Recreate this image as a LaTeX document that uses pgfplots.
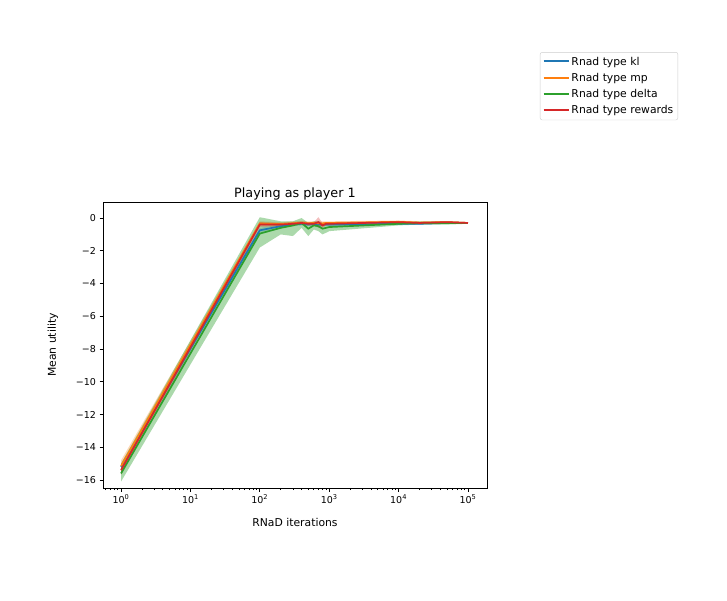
\documentclass[border=0pt]{standalone}
\usepackage{fontspec}
\setmainfont{DejaVu Sans}
\usepackage{pgfplots}
\pgfplotsset{compat=1.18}
\definecolor{tabblue}{HTML}{1F77B4}
\definecolor{taborange}{HTML}{FF7F0E}
\definecolor{tabgreen}{HTML}{2CA02C}
\definecolor{tabred}{HTML}{D62728}
\begin{document}
\begin{tikzpicture}[x=1pt,y=1pt]
\useasboundingbox (0,0) rectangle (727,600);
\begin{axis}[
  at={(103pt,112pt)}, anchor=south west,
  scale only axis, width=384pt, height=286pt,
  xmode=log, log basis x=10,
  xmin=0.55, xmax=1.88e5,
  ymin=-16.49, ymax=0.98,
  xtick={1,10,100,1000,10000,100000},
  xticklabels={10\textsuperscript{0},10\textsuperscript{1},10\textsuperscript{2},10\textsuperscript{3},10\textsuperscript{4},10\textsuperscript{5}},
  minor xtick={0.6,0.7,0.8,0.9,2,3,4,5,6,7,8,9,20,30,40,50,60,70,80,90,200,300,400,500,600,700,800,900,2000,3000,4000,5000,6000,7000,8000,9000,20000,30000,40000,50000,60000,70000,80000,90000},
  ytick={-16,-14,...,0},
  yticklabels={−16,−14,−12,−10,−8,−6,−4,−2,0},
  tick pos=left, tick align=outside,
  major tick length=3.5pt, minor tick length=2pt,
  every tick/.style={black, line width=0.7pt},
  tick label style={font=\fontsize{9.5}{11}\selectfont},
  title={Playing as player 1},
  title style={font=\fontsize{12.8}{14}\selectfont, yshift=-8pt},
  xlabel={RNaD iterations},
  ylabel={Mean utility},
  label style={font=\fontsize{10.8}{12}\selectfont},
  xlabel shift=7pt,
  ylabel shift=11pt,
  axis line style={line width=0.7pt},
  legend style={at={(1.138,1.524)}, anchor=north west, font=\fontsize{10.8}{12.5}\selectfont,
    draw=black!20, rounded corners=2pt, row sep=2.6pt, inner sep=2.5pt},
  legend cell align=left,
  legend image code/.code={\draw[#1, line width=1.8pt, draw opacity=1] (0pt,0.3pt) -- (25pt,0.3pt);},
]
% bands
\addplot[fill=tabblue, fill opacity=0.3, draw=none, forget plot] coordinates {
(1,-15.0) (100,-0.6) (200,-0.4) (300,-0.3) (400,-0.25) (500,-0.3) (600,-0.25) (700,-0.3) (800,-0.3) (900,-0.3) (1000,-0.3) (10000,-0.3) (20000,-0.3) (50000,-0.25) (100000,-0.25)
(100000,-0.35) (50000,-0.35) (20000,-0.4) (10000,-0.4) (1000,-0.5) (900,-0.5) (800,-0.5) (700,-0.5) (600,-0.45) (500,-0.5) (400,-0.45) (300,-0.5) (200,-0.6) (100,-0.9) (1,-15.4)
} -- cycle;
\addplot[fill=taborange, fill opacity=0.3, draw=none, forget plot] coordinates {
(1,-14.8) (100,-0.2) (200,-0.25) (300,-0.2) (400,-0.2) (500,-0.2) (600,-0.2) (700,-0.2) (800,-0.2) (900,-0.2) (1000,-0.2) (10000,-0.15) (20000,-0.2) (50000,-0.2) (100000,-0.25)
(100000,-0.35) (50000,-0.3) (20000,-0.35) (10000,-0.3) (1000,-0.4) (900,-0.4) (800,-0.45) (700,-0.45) (600,-0.4) (500,-0.45) (400,-0.4) (300,-0.45) (200,-0.5) (100,-0.45) (1,-15.5)
} -- cycle;
\addplot[fill=tabgreen, fill opacity=0.4, draw=none, forget plot] coordinates {
(1,-15.0) (100,0.05) (200,-0.2) (300,-0.2) (400,0.0) (500,-0.3) (600,-0.2) (700,-0.2) (800,-0.3) (900,-0.3) (1000,-0.3) (10000,-0.25) (20000,-0.2) (50000,-0.2) (100000,-0.25)
(100000,-0.35) (50000,-0.4) (20000,-0.4) (10000,-0.45) (1000,-0.8) (900,-0.9) (800,-1.0) (700,-0.8) (600,-0.7) (500,-1.1) (400,-0.6) (300,-1.1) (200,-1.0) (100,-1.8) (1,-16.1)
} -- cycle;
\addplot[fill=tabred, fill opacity=0.3, draw=none, forget plot] coordinates {
(1,-15.1) (100,-0.25) (200,-0.3) (300,-0.25) (400,-0.2) (500,-0.25) (600,-0.25) (700,0.05) (800,-0.3) (900,-0.25) (1000,-0.25) (10000,-0.2) (20000,-0.25) (50000,-0.2) (100000,-0.25)
(100000,-0.35) (50000,-0.3) (20000,-0.35) (10000,-0.3) (1000,-0.45) (900,-0.45) (800,-0.6) (700,-0.6) (600,-0.45) (500,-0.45) (400,-0.4) (300,-0.45) (200,-0.5) (100,-0.55) (1,-15.7)
} -- cycle;
% lines
\addplot[tabblue, line width=1.7pt] coordinates {
(1,-15.2) (100,-0.75) (200,-0.5) (300,-0.4) (400,-0.35) (500,-0.4) (600,-0.35) (700,-0.4) (800,-0.4) (900,-0.4) (1000,-0.4) (10000,-0.35) (20000,-0.35) (50000,-0.3) (100000,-0.3)};
\addlegendentry{Rnad type kl}
\addplot[taborange, line width=1.7pt] coordinates {
(1,-15.15) (100,-0.33) (200,-0.37) (300,-0.32) (400,-0.28) (500,-0.32) (600,-0.3) (700,-0.32) (800,-0.33) (900,-0.3) (1000,-0.3) (10000,-0.23) (20000,-0.28) (50000,-0.25) (100000,-0.3)};
\addlegendentry{Rnad type mp}
\addplot[tabgreen, line width=1.7pt] coordinates {
(1,-15.6) (100,-0.95) (200,-0.6) (300,-0.45) (400,-0.3) (500,-0.65) (600,-0.45) (700,-0.5) (800,-0.65) (900,-0.6) (1000,-0.55) (10000,-0.35) (20000,-0.3) (50000,-0.3) (100000,-0.3)};
\addlegendentry{Rnad type delta}
\addplot[tabred, line width=1.7pt] coordinates {
(1,-15.4) (100,-0.4) (200,-0.4) (300,-0.35) (400,-0.3) (500,-0.35) (600,-0.35) (700,-0.25) (800,-0.45) (900,-0.35) (1000,-0.35) (10000,-0.25) (20000,-0.3) (50000,-0.25) (100000,-0.3)};
\addlegendentry{Rnad type rewards}
\end{axis}
\end{tikzpicture}
\end{document}
